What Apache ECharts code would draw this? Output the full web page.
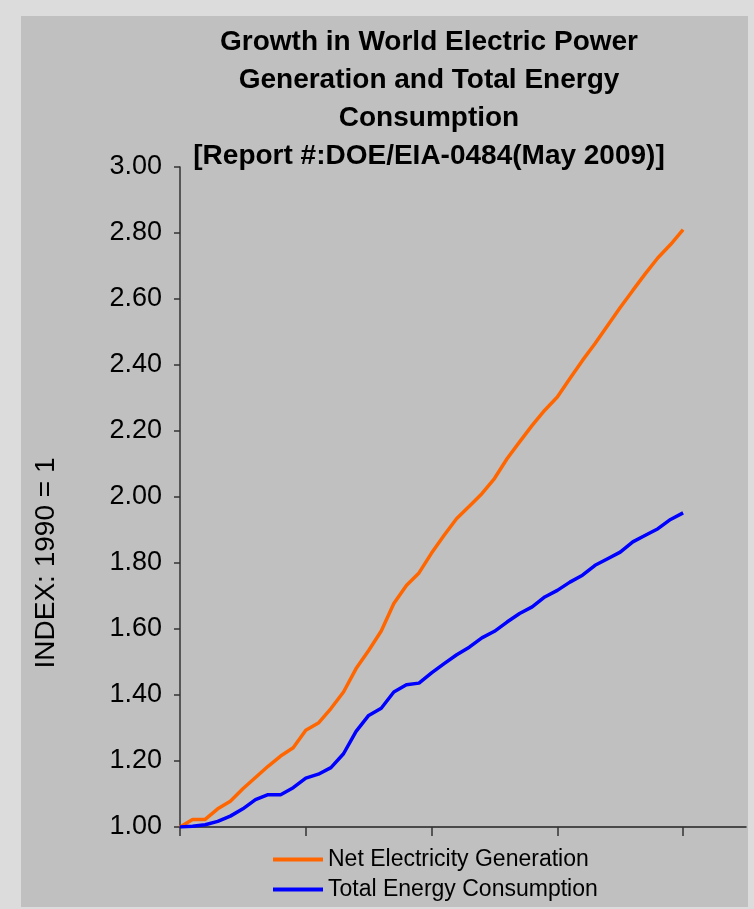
<!DOCTYPE html>
<html>
<head>
<meta charset="utf-8">
<script src="https://cdn.jsdelivr.net/npm/echarts@6/dist/echarts.min.js"></script>
<style>
  html, body { margin: 0; padding: 0; background: #dcdcdc; }
  #chart { width: 754px; height: 909px; }
</style>
</head>
<body>
<div id="chart"></div>
<script>
// Years on the category axis (axis runs a little past the last data point)
const years = [
  '1990','1991','1992','1993','1994','1995','1996','1997','1998','1999',
  '2000','2001','2002','2003','2004','2005','2006','2007','2008','2009',
  '2010','2011','2012','2013','2014','2015','2016','2017','2018','2019',
  '2020','2021','2022','2023','2024','2025','2026','2027','2028','2029',
  '2030','2031','2032','2033','2034','2035'
];

// Index values, 1990 = 1
const netGeneration = [
  1.00, 1.023, 1.023, 1.055, 1.078, 1.116, 1.15, 1.184, 1.215, 1.24,
  1.293, 1.315, 1.359, 1.409, 1.48, 1.535, 1.594, 1.677, 1.732, 1.77,
  1.83, 1.884, 1.935, 1.972, 2.01, 2.056, 2.116, 2.167, 2.217, 2.263,
  2.303, 2.359, 2.414, 2.465, 2.52, 2.574, 2.626, 2.677, 2.725, 2.765,
  2.81
];
const totalConsumption = [
  1.00, 1.002, 1.007, 1.017, 1.033, 1.055, 1.083, 1.098, 1.098, 1.119,
  1.148, 1.16, 1.18, 1.222, 1.29, 1.338, 1.36, 1.409, 1.431, 1.436,
  1.467, 1.495, 1.522, 1.545, 1.573, 1.593, 1.621, 1.647, 1.667, 1.697,
  1.717, 1.742, 1.763, 1.793, 1.813, 1.833, 1.864, 1.884, 1.904, 1.932,
  1.952
];

const seriesNames = ['Net Electricity Generation', 'Total Energy Consumption'];
const titleLines = [
  'Growth in World Electric Power',
  'Generation and Total Energy',
  'Consumption',
  '[Report #:DOE/EIA-0484(May 2009)]'
];
const yAxisTitle = 'INDEX: 1990 = 1';

const FONT = '"Liberation Sans", Arial, sans-serif';
const chart = echarts.init(document.getElementById('chart'), null, { renderer: 'canvas' });

chart.setOption({
  backgroundColor: '#dcdcdc',
  animation: false,
  graphic: [
    {
      type: 'rect', z: -10,
      shape: { x: 21, y: 16, width: 727, height: 891 },
      style: { fill: '#c0c0c0' }
    },
    {
      type: 'text', x: 429, y: 23,
      style: {
        text: titleLines.join('\n'),
        font: 'bold 28px ' + FONT,
        fill: '#000',
        align: 'center',
        verticalAlign: 'top',
        lineHeight: 38
      }
    },
    {
      type: 'text', x: 46, y: 563, rotation: Math.PI / 2,
      style: {
        text: yAxisTitle,
        font: '28px ' + FONT,
        fill: '#000',
        align: 'center',
        verticalAlign: 'middle'
      }
    }
  ],
  legend: [
    {
      data: [seriesNames[0]], left: 268, top: 843, icon: 'rect',
      itemWidth: 50, itemHeight: 4,
      textStyle: { fontFamily: FONT, fontSize: 23, color: '#000' }
    },
    {
      data: [seriesNames[1]], left: 268, top: 873, icon: 'rect',
      itemWidth: 50, itemHeight: 4,
      textStyle: { fontFamily: FONT, fontSize: 23, color: '#000' }
    }
  ],
  grid: { left: 180, top: 167, width: 566, height: 660, containLabel: false },
  xAxis: {
    type: 'category',
    data: years,
    boundaryGap: false,
    axisLine: { lineStyle: { color: '#222', width: 1.5 } },
    axisTick: { show: true, interval: 9, length: 9, lineStyle: { color: '#333', width: 1.5 } },
    axisLabel: { show: false },
    splitLine: { show: false }
  },
  yAxis: {
    type: 'value',
    min: 1, max: 3, interval: 0.2,
    axisLine: { show: true, lineStyle: { color: '#333', width: 1.5 } },
    axisTick: { show: true, length: 6, lineStyle: { color: '#333', width: 1.5 } },
    axisLabel: {
      margin: 18,
      fontFamily: FONT, fontSize: 27, color: '#000',
      formatter: v => v.toFixed(2)
    },
    splitLine: { show: false }
  },
  series: [
    {
      name: seriesNames[0], type: 'line', data: netGeneration,
      symbol: 'none', color: '#ff6600',
      lineStyle: { color: '#ff6600', width: 3.5 }
    },
    {
      name: seriesNames[1], type: 'line', data: totalConsumption,
      symbol: 'none', color: '#0000ff',
      lineStyle: { color: '#0000ff', width: 3.5 }
    }
  ]
});
</script>
</body>
</html>
